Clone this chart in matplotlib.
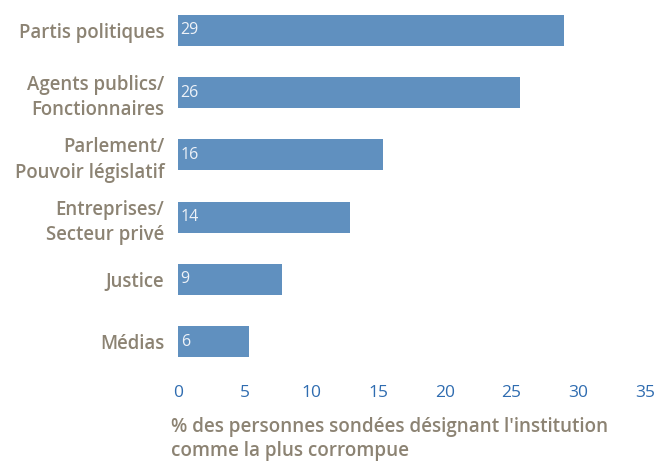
import matplotlib
matplotlib.use("Agg")
import matplotlib.pyplot as plt
import numpy as np

categories = ["Partis politiques", "Agents publics/\nFonctionnaires",
              "Parlement/\nPouvoir législatif", "Entreprises/\nSecteur privé",
              "Justice", "Médias"]
# bar lengths as drawn in the picture, and the numbers printed on them
values = [28.9, 25.6, 15.4, 12.9, 7.8, 5.3]
labels = ["29", "26", "16", "14", "9", "6"]
ticks = [0, 5, 10, 15, 20, 25, 30, 35]
xlabel = "% des personnes sondées désignant l'institution\ncomme la plus corrompue"

bar_color = "#6090bf"
grey = "#8c8373"
blue = "#2f6cb0"

plt.rcParams['font.family'] = ['Open Sans', 'DejaVu Sans']

fig = plt.figure(figsize=(6.56, 4.62), dpi=100)
ax = fig.add_axes([0.2713, 0.1935, 0.712, 0.8078])

y = np.arange(len(categories))
ax.barh(y, values, height=0.5, color=bar_color)
for yi, lab in zip(y, labels):
    ax.text(0.2, yi, lab, color="#eef2f8", fontsize=11.5, va="center", ha="left")

ax.set_ylim(5.5, -0.5)
ax.set_xlim(0, 35)
ax.set_xticks(ticks)
ax.set_xticklabels([str(t) for t in ticks], color=blue, fontsize=12.5)
ax.set_yticks(y)
ax.set_yticklabels(categories, color=grey, fontsize=13.4, fontweight="semibold", linespacing=1.35)
ax.tick_params(axis="both", length=0)
ax.tick_params(axis="y", pad=10)
ax.tick_params(axis="x", pad=9)
for s in ax.spines.values():
    s.set_visible(False)

fig.text(171 / 656, 1 - 417 / 462, xlabel, color=grey, fontsize=13.6, fontweight="semibold",
         ha="left", va="top", linespacing=1.25)

fig.savefig("out.png", dpi=100)
